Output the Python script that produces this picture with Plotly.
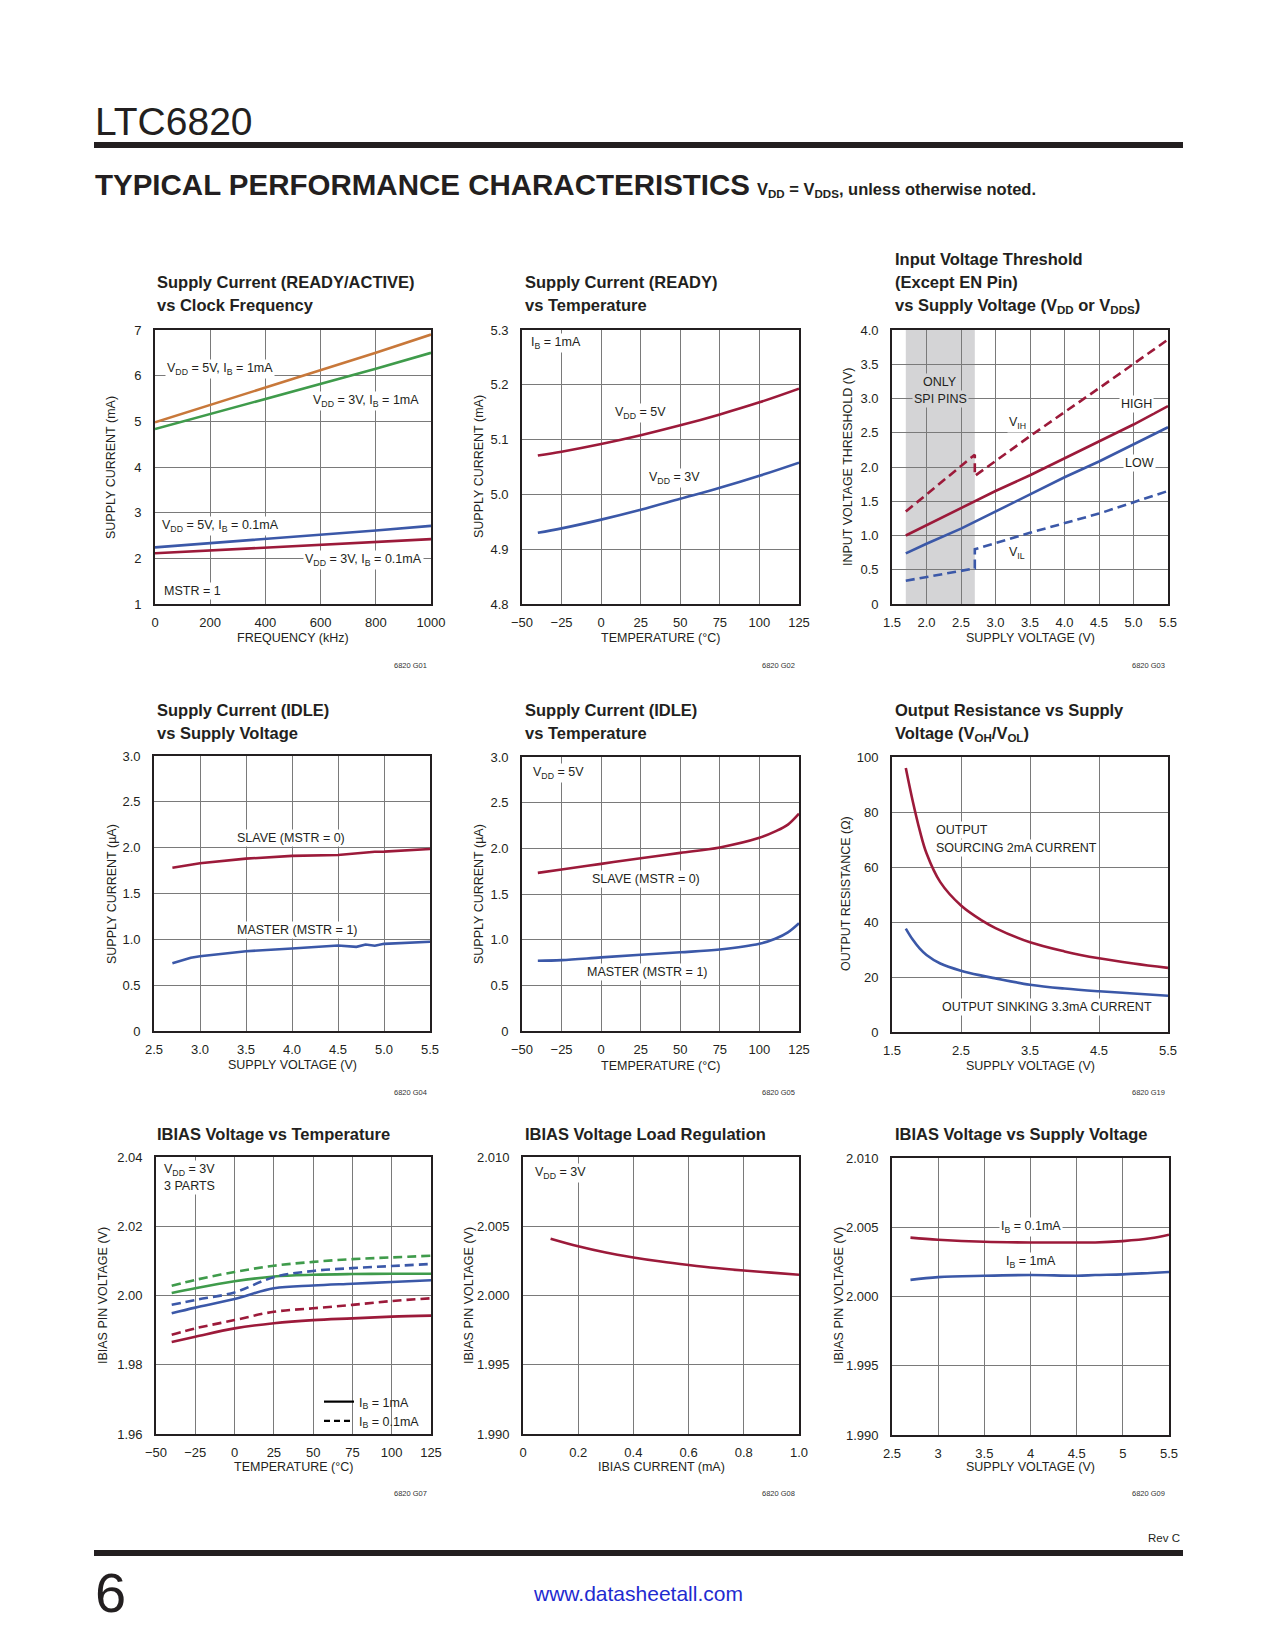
import plotly.graph_objects as go

W, H = 1275, 1650
RED = "#9c1a3a"
BLUE = "#3b58a8"
GREEN = "#3f9b4b"
ORANGE = "#c8783a"
SHADE = "#d4d4d6"
GRID = "#7a7a7a"
INK = "#231f20"
FONT = "Liberation Sans, Arial, sans-serif"
LW = 2.6
DASH = "9px,5px"

# ---------------- data ----------------
# G01 Supply current (READY/ACTIVE) vs clock frequency
g01_freq = [0, 200, 400, 600, 800, 1000]
g01_5v_1ma = [4.98, 5.36, 5.74, 6.12, 6.50, 6.90]
g01_3v_1ma = [4.83, 5.16, 5.49, 5.82, 6.15, 6.50]
g01_5v_01ma = [2.24, 2.33, 2.42, 2.51, 2.61, 2.71]
g01_3v_01ma = [2.11, 2.17, 2.23, 2.29, 2.35, 2.42]

# G02 Supply current (READY) vs temperature
g02_temp = [-40, -25, 0, 25, 50, 75, 100, 125]
g02_5v = [5.071, 5.078, 5.092, 5.108, 5.126, 5.146, 5.168, 5.193]
g02_3v = [4.930, 4.938, 4.954, 4.972, 4.992, 5.012, 5.034, 5.058]

# G03 Input voltage threshold vs supply voltage
g03_spi_only = [1.7, 2.7]
g03_vih_x = [1.7, 2.7, 2.7, 3.5, 4.5, 5.5]
g03_vih_y = [1.35, 2.18, 1.87, 2.45, 3.15, 3.86]
g03_vil_x = [1.7, 2.7, 2.7, 3.5, 4.5, 5.5]
g03_vil_y = [0.34, 0.52, 0.80, 1.04, 1.32, 1.65]
g03_vdd = [1.7, 2.0, 2.5, 3.0, 3.5, 4.0, 4.5, 5.0, 5.5]
g03_high = [1.00, 1.15, 1.40, 1.65, 1.88, 2.13, 2.38, 2.62, 2.89]
g03_low = [0.74, 0.88, 1.10, 1.35, 1.60, 1.85, 2.08, 2.33, 2.58]

# G04 Supply current (IDLE) vs supply voltage
g04_vdd = [2.7, 2.9, 3.0, 3.5, 4.0, 4.5, 4.7, 4.8, 4.9, 5.0, 5.5]
g04_slave = [1.78, 1.81, 1.83, 1.88, 1.91, 1.92, 1.94, 1.945, 1.955, 1.957, 1.985]
g04_master = [0.74, 0.80, 0.816, 0.87, 0.90, 0.933, 0.918, 0.944, 0.93, 0.951, 0.973]

# G05 Supply current (IDLE) vs temperature
g05_temp = [-40, -25, 0, 25, 50, 75, 100, 110, 118, 125]
g05_slave = [1.731, 1.768, 1.830, 1.892, 1.950, 2.010, 2.115, 2.185, 2.26, 2.38]
g05_master = [0.769, 0.776, 0.806, 0.835, 0.862, 0.893, 0.955, 1.01, 1.08, 1.18]

# G19 Output resistance vs supply voltage
g19_vdd = [1.7, 1.8, 1.9, 2.0, 2.2, 2.5, 2.8, 3.0, 3.5, 4.0, 4.5, 5.0, 5.5]
g19_source = [96.0, 84.0, 73.5, 65.0, 54.5, 46.0, 40.6, 37.8, 32.6, 29.3, 26.8, 24.9, 23.3]
g19_sink = [37.6, 33.6, 30.4, 28.0, 24.9, 22.3, 20.5, 19.5, 17.2, 15.8, 14.8, 14.0, 13.2]

# G07 IBIAS voltage vs temperature (3 parts, two bias currents)
g07_temp = [-40, -25, 0, 25, 50, 75, 100, 125]
g07_a_1ma = [2.0007, 2.0021, 2.0041, 2.0055, 2.0060, 2.0062, 2.0063, 2.0063]
g07_a_01ma = [2.0028, 2.0045, 2.0068, 2.0086, 2.0097, 2.0105, 2.0110, 2.0115]
g07_b_1ma = [1.9949, 1.9965, 1.9990, 2.0021, 2.0029, 2.0034, 2.0039, 2.0044]
g07_b_01ma = [1.9973, 1.9987, 2.0009, 2.0053, 2.0071, 2.0079, 2.0085, 2.0091]
g07_c_1ma = [1.9866, 1.9881, 1.9905, 1.9920, 1.9929, 1.9934, 1.9939, 1.9942]
g07_c_01ma = [1.9887, 1.9905, 1.9929, 1.9953, 1.9963, 1.9973, 1.9984, 1.9992]

# G08 IBIAS voltage load regulation
g08_ibias = [0.1, 0.2, 0.3, 0.4, 0.5, 0.6, 0.7, 0.8, 0.9, 1.0]
g08_v = [2.0041, 2.00355, 2.0031, 2.00275, 2.00245, 2.0022, 2.00198, 2.0018, 2.00165, 2.0015]

# G09 IBIAS voltage vs supply voltage
g09_vdd = [2.7, 3.0, 3.5, 4.0, 4.5, 4.7, 5.0, 5.3, 5.5]
g09_01ma = [2.00425, 2.0041, 2.00395, 2.0039, 2.0039, 2.0039, 2.0040, 2.0042, 2.00446]
g09_1ma = [2.0012, 2.0014, 2.0015, 2.00155, 2.0015, 2.00155, 2.0016, 2.0017, 2.00177]

# ---------------- layout helpers ----------------
def px(x):
    return x / W


def py(y):
    return 1 - y / H


panels = [
    dict(n=1, l=155, t=330, r=431, b=604, xr=[0, 1000], xt=[0, 200, 400, 600, 800, 1000],
         xl=["0", "200", "400", "600", "800", "1000"], yr=[1, 7], yt=[1, 2, 3, 4, 5, 6, 7],
         yl=["1", "2", "3", "4", "5", "6", "7"]),
    dict(n=2, l=522, t=330, r=799, b=604, xr=[-50, 125], xt=[-50, -25, 0, 25, 50, 75, 100, 125],
         xl=["\u221250", "\u221225", "0", "25", "50", "75", "100", "125"], yr=[4.8, 5.3],
         yt=[4.8, 4.9, 5.0, 5.1, 5.2, 5.3], yl=["4.8", "4.9", "5.0", "5.1", "5.2", "5.3"]),
    dict(n=3, l=892, t=330, r=1168, b=604, xr=[1.5, 5.5], xt=[1.5, 2, 2.5, 3, 3.5, 4, 4.5, 5, 5.5],
         xl=["1.5", "2.0", "2.5", "3.0", "3.5", "4.0", "4.5", "5.0", "5.5"], yr=[0, 4],
         yt=[0, 0.5, 1, 1.5, 2, 2.5, 3, 3.5, 4], yl=["0", "0.5", "1.0", "1.5", "2.0", "2.5", "3.0", "3.5", "4.0"]),
    dict(n=4, l=154, t=756, r=430, b=1031, xr=[2.5, 5.5], xt=[2.5, 3, 3.5, 4, 4.5, 5, 5.5],
         xl=["2.5", "3.0", "3.5", "4.0", "4.5", "5.0", "5.5"], yr=[0, 3],
         yt=[0, 0.5, 1, 1.5, 2, 2.5, 3], yl=["0", "0.5", "1.0", "1.5", "2.0", "2.5", "3.0"]),
    dict(n=5, l=522, t=757, r=799, b=1031, xr=[-50, 125], xt=[-50, -25, 0, 25, 50, 75, 100, 125],
         xl=["\u221250", "\u221225", "0", "25", "50", "75", "100", "125"], yr=[0, 3],
         yt=[0, 0.5, 1, 1.5, 2, 2.5, 3], yl=["0", "0.5", "1.0", "1.5", "2.0", "2.5", "3.0"]),
    dict(n=6, l=892, t=757, r=1168, b=1032, xr=[1.5, 5.5], xt=[1.5, 2.5, 3.5, 4.5, 5.5],
         xl=["1.5", "2.5", "3.5", "4.5", "5.5"], yr=[0, 100],
         yt=[0, 20, 40, 60, 80, 100], yl=["0", "20", "40", "60", "80", "100"]),
    dict(n=7, l=156, t=1157, r=431, b=1434, xr=[-50, 125], xt=[-50, -25, 0, 25, 50, 75, 100, 125],
         xl=["\u221250", "\u221225", "0", "25", "50", "75", "100", "125"], yr=[1.96, 2.04],
         yt=[1.96, 1.98, 2.0, 2.02, 2.04], yl=["1.96", "1.98", "2.00", "2.02", "2.04"]),
    dict(n=8, l=523, t=1157, r=799, b=1434, xr=[0, 1.0], xt=[0, 0.2, 0.4, 0.6, 0.8, 1.0],
         xl=["0", "0.2", "0.4", "0.6", "0.8", "1.0"], yr=[1.99, 2.01],
         yt=[1.99, 1.995, 2.0, 2.005, 2.01], yl=["1.990", "1.995", "2.000", "2.005", "2.010"]),
    dict(n=9, l=892, t=1158, r=1169, b=1435, xr=[2.5, 5.5], xt=[2.5, 3, 3.5, 4, 4.5, 5, 5.5],
         xl=["2.5", "3", "3.5", "4", "4.5", "5", "5.5"], yr=[1.99, 2.01],
         yt=[1.99, 1.995, 2.0, 2.005, 2.01], yl=["1.990", "1.995", "2.000", "2.005", "2.010"]),
]

fig = go.Figure()
layout = dict(
    width=W, height=H, margin=dict(l=0, r=0, t=0, b=0, autoexpand=False),
    paper_bgcolor="white", plot_bgcolor="white",
    font=dict(family=FONT, size=13, color=INK),
    showlegend=True,
)

for p in panels:
    s = "" if p["n"] == 1 else str(p["n"])
    layout["xaxis" + s] = dict(
        domain=[px(p["l"]), px(p["r"])], range=p["xr"], anchor="y" + s,
        tickmode="array", tickvals=p["xt"], ticktext=p["xl"],
        showgrid=True, gridcolor=GRID, gridwidth=1.4, zeroline=False,
        showline=True, linecolor=INK, linewidth=1.8, mirror=True,
        ticks="", ticklabelstandoff=5, tickfont=dict(size=13, family=FONT, color=INK),
        fixedrange=True, automargin=False,
    )
    layout["yaxis" + s] = dict(
        domain=[py(p["b"]), py(p["t"])], range=p["yr"], anchor="x" + s,
        tickmode="array", tickvals=p["yt"], ticktext=p["yl"],
        showgrid=True, gridcolor=GRID, gridwidth=1.4, zeroline=False,
        showline=True, linecolor=INK, linewidth=1.8, mirror=True,
        ticks="", ticklabelstandoff=9, tickfont=dict(size=13, family=FONT, color=INK),
        fixedrange=True, automargin=False,
    )


def line(n, x, y, color, dash=None, spline=True):
    s = "" if n == 1 else str(n)
    fig.add_trace(go.Scatter(
        x=x, y=y, mode="lines", xaxis="x" + s, yaxis="y" + s, showlegend=False,
        line=dict(color=color, width=LW, dash=dash, shape="spline" if spline else "linear",
                  smoothing=1.0),
        hoverinfo="skip",
    ))


# G01
line(1, g01_freq, g01_5v_1ma, ORANGE, spline=False)
line(1, g01_freq, g01_3v_1ma, GREEN, spline=False)
line(1, g01_freq, g01_5v_01ma, BLUE, spline=False)
line(1, g01_freq, g01_3v_01ma, RED, spline=False)
# G02
line(2, g02_temp, g02_5v, RED)
line(2, g02_temp, g02_3v, BLUE)
# G03
line(3, g03_vih_x, g03_vih_y, RED, dash=DASH, spline=False)
line(3, g03_vdd, g03_high, RED, spline=False)
line(3, g03_vdd, g03_low, BLUE, spline=False)
line(3, g03_vil_x, g03_vil_y, BLUE, dash=DASH, spline=False)
# G04
line(4, g04_vdd, g04_slave, RED, spline=False)
line(4, g04_vdd, g04_master, BLUE, spline=False)
# G05
line(5, g05_temp, g05_slave, RED)
line(5, g05_temp, g05_master, BLUE)
# G19
line(6, g19_vdd, g19_source, RED)
line(6, g19_vdd, g19_sink, BLUE)
# G07
line(7, g07_temp, g07_a_01ma, GREEN, dash=DASH)
line(7, g07_temp, g07_a_1ma, GREEN)
line(7, g07_temp, g07_b_01ma, BLUE, dash=DASH)
line(7, g07_temp, g07_b_1ma, BLUE)
line(7, g07_temp, g07_c_01ma, RED, dash=DASH)
line(7, g07_temp, g07_c_1ma, RED)
# G08
line(8, g08_ibias, g08_v, RED)
# G09
line(9, g09_vdd, g09_01ma, RED)
line(9, g09_vdd, g09_1ma, BLUE)

# legend entries for G07
for name, dash in [("I<sub>B</sub> = 1mA", None), ("I<sub>B</sub> = 0.1mA", "6px,4px")]:
    fig.add_trace(go.Scatter(x=[None], y=[None], mode="lines", xaxis="x7", yaxis="y7",
                             name=name, line=dict(color="black", width=2.2, dash=dash)))
layout["legend"] = dict(x=px(319), y=py(1387), xanchor="left", yanchor="top",
                        bgcolor="rgba(0,0,0,0)", font=dict(size=12.5, family=FONT, color=INK),
                        itemwidth=30, tracegroupgap=0, borderwidth=0)

shapes = [
    dict(type="rect", xref="x3", yref="y3", x0=g03_spi_only[0], x1=g03_spi_only[1],
         y0=0, y1=4, fillcolor=SHADE, line=dict(width=0), layer="below"),
    dict(type="rect", xref="paper", yref="paper", x0=px(94), x1=px(1183), y0=py(148), y1=py(142),
         fillcolor=INK, line=dict(width=0)),
    dict(type="rect", xref="paper", yref="paper", x0=px(94), x1=px(1183), y0=py(1556), y1=py(1550),
         fillcolor=INK, line=dict(width=0)),
]
layout["shapes"] = shapes

ann = []


def A(x, y, text, size=12.5, xa="left", ya="middle", angle=0, bg=None, color=INK, family=FONT, weight=None):
    d = dict(x=px(x), y=py(y), xref="paper", yref="paper", text=text, showarrow=False,
             xanchor=xa, yanchor=ya, textangle=angle,
             font=dict(size=size, family=family, color=color), borderpad=1)
    if weight:
        d["font"]["weight"] = weight
    if bg:
        d["bgcolor"] = bg
    ann.append(d)


# header / footer
A(93, 121, "LTC6820", size=39)
A(93, 184, "TYPICAL PERFORMANCE CHARACTERISTICS", size=29.5, weight="bold")
A(755, 190, "V<sub>DD</sub> = V<sub>DDS</sub>, unless otherwise noted.", size=16.5, weight="bold")
A(93, 1592, "6", size=56)
A(638, 1593, "www.datasheetall.com", size=21, xa="center", color="#1f2bd0")
A(1182, 1538, "Rev C", size=11.5, xa="right")

# panel titles
TT = dict(size=16.5, weight="bold")
A(155, 282, "Supply Current (READY/ACTIVE)", **TT)
A(155, 305, "vs Clock Frequency", **TT)
A(523, 282, "Supply Current (READY)", **TT)
A(523, 305, "vs Temperature", **TT)
A(893, 259, "Input Voltage Threshold", **TT)
A(893, 282, "(Except EN Pin)", **TT)
A(893, 306, "vs Supply Voltage (V<sub>DD</sub> or V<sub>DDS</sub>)", **TT)
A(155, 710, "Supply Current (IDLE)", **TT)
A(155, 733, "vs Supply Voltage", **TT)
A(523, 710, "Supply Current (IDLE)", **TT)
A(523, 733, "vs Temperature", **TT)
A(893, 710, "Output Resistance vs Supply", **TT)
A(893, 734, "Voltage (V<sub>OH</sub>/V<sub>OL</sub>)", **TT)
A(155, 1134, "IBIAS Voltage vs Temperature", **TT)
A(523, 1134, "IBIAS Voltage Load Regulation", **TT)
A(893, 1134, "IBIAS Voltage vs Supply Voltage", **TT)

# axis titles
xt = [(293, 638, "FREQUENCY (kHz)"), (660, 638, "TEMPERATURE (\u00b0C)"), (1030, 638, "SUPPLY VOLTAGE (V)"),
      (292, 1065, "SUPPLY VOLTAGE (V)"), (660, 1066, "TEMPERATURE (\u00b0C)"), (1030, 1066, "SUPPLY VOLTAGE (V)"),
      (293, 1467, "TEMPERATURE (\u00b0C)"), (661, 1467, "IBIAS CURRENT (mA)"), (1030, 1467, "SUPPLY VOLTAGE (V)")]
for x, y, t in xt:
    A(x, y, t, size=12.5, xa="center")
yt = [(111, 467, "SUPPLY CURRENT (mA)"), (479, 467, "SUPPLY CURRENT (mA)"),
      (848, 467, "INPUT VOLTAGE THRESHOLD (V)"),
      (112, 894, "SUPPLY CURRENT (\u00b5A)"), (479, 894, "SUPPLY CURRENT (\u00b5A)"),
      (846, 894, "OUTPUT RESISTANCE (\u03a9)"),
      (103, 1296, "IBIAS PIN VOLTAGE (V)"), (469, 1296, "IBIAS PIN VOLTAGE (V)"),
      (839, 1296, "IBIAS PIN VOLTAGE (V)")]
for x, y, t in yt:
    A(x, y, t, size=12.5, xa="center", angle=-90)

# figure ids
for x, y, t in [(429, 666, "6820 G01"), (797, 666, "6820 G02"), (1167, 666, "6820 G03"),
                (429, 1092, "6820 G04"), (797, 1092, "6820 G05"), (1167, 1092, "6820 G19"),
                (429, 1493, "6820 G07"), (797, 1493, "6820 G08"), (1167, 1493, "6820 G09")]:
    A(x, y, t, size=7.5, xa="right", color="#333333")

WB = "white"
# G01 labels
A(165, 369, "V<sub>DD</sub> = 5V, I<sub>B</sub> = 1mA", bg=WB)
A(421, 401, "V<sub>DD</sub> = 3V, I<sub>B</sub> = 1mA", xa="right", bg=WB)
A(160, 526, "V<sub>DD</sub> = 5V, I<sub>B</sub> = 0.1mA", bg=WB)
A(424, 560, "V<sub>DD</sub> = 3V, I<sub>B</sub> = 0.1mA", xa="right", bg=WB)
A(162, 591, "MSTR = 1", bg=WB)
# G02 labels
A(529, 343, "I<sub>B</sub> = 1mA", bg=WB)
A(640, 413, "V<sub>DD</sub> = 5V", xa="center", bg=WB)
A(674, 478, "V<sub>DD</sub> = 3V", xa="center", bg=WB)
# G03 labels
A(940, 382, "ONLY", xa="center", bg=SHADE)
A(940, 399, "SPI PINS", xa="center", bg=SHADE)
A(1119, 404, "HIGH", bg=WB)
A(1123, 463, "LOW", bg=WB)
A(1007, 423, "V<sub>IH</sub>", bg=WB)
A(1007, 553, "V<sub>IL</sub>", bg=WB)
# G04 labels
A(291, 838, "SLAVE (MSTR = 0)", xa="center", bg=WB)
A(297, 930, "MASTER (MSTR = 1)", xa="center", bg=WB)
# G05 labels
A(531, 773, "V<sub>DD</sub> = 5V", bg=WB)
A(646, 879, "SLAVE (MSTR = 0)", xa="center", bg=WB)
A(648, 972, "MASTER (MSTR = 1)", xa="center", bg=WB)
# G19 labels
A(934, 830, "OUTPUT", bg=WB)
A(934, 848, "SOURCING 2mA CURRENT", bg=WB)
A(940, 1007, "OUTPUT SINKING 3.3mA CURRENT", bg=WB)
# G07 labels
A(162, 1170, "V<sub>DD</sub> = 3V", bg=WB)
A(162, 1186, "3 PARTS", bg=WB)
# G08 labels
A(533, 1173, "V<sub>DD</sub> = 3V", bg=WB)
# G09 labels
A(1031, 1227, "I<sub>B</sub> = 0.1mA", xa="center", bg=WB)
A(1031, 1262, "I<sub>B</sub> = 1mA", xa="center", bg=WB)

layout["annotations"] = ann
fig.update_layout(**layout)
fig.write_html(
    "out.html",
    config={"responsive": False, "displayModeBar": False},
    post_script="document.body.style.margin='0';document.body.style.overflow='hidden';",
)
